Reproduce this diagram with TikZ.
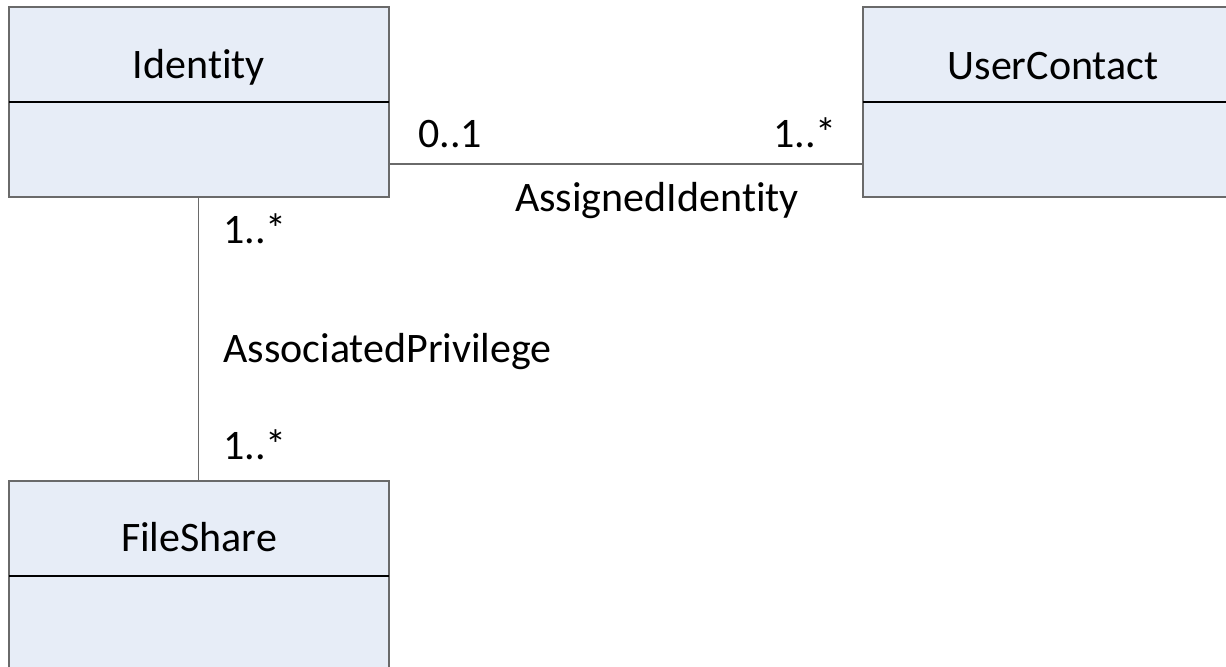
\documentclass[tikz,border=0pt]{standalone}
\usepackage{fontspec}
\setmainfont{Carlito}[Ligatures={NoCommon}]
\definecolor{boxfill}{HTML}{E7EDF7}
\definecolor{boxline}{HTML}{6A6A6A}
\tikzset{
  classbox/.style={draw=boxline, fill=boxfill, line width=0.6pt, rectangle, minimum width=190pt, minimum height=95pt, inner sep=0pt},
  divider/.style={draw=black, line width=1.1pt},
  conn/.style={draw=boxline, line width=0.6pt},
  lbl/.style={font=\fontsize{21}{25}\selectfont, inner sep=0pt, text=black},
}
\begin{document}
\begin{tikzpicture}[x=0.5pt,y=-0.5pt]
\clip (0,0) rectangle (1226,667);
\fill[white] (0,0) rectangle (1226,667);
% class boxes
\node[classbox] (identity) at (199,102) {};
\node[classbox] (usercontact) at (1053,102) {};
\node[classbox] (fileshare) at (199,576) {};
% dividers
\coordinate (idL) at (9,101.7);
\coordinate (idR) at (389,101.7);
\draw[divider] (idL) -- (idR);
\coordinate (ucL) at (863,101.7);
\coordinate (ucR) at (1243,101.7);
\draw[divider] (ucL) -- (ucR);
\coordinate (fsL) at (9,575.7);
\coordinate (fsR) at (389,575.7);
\draw[divider] (fsL) -- (fsR);
% titles
\node[lbl, anchor=base] (identityT) at (199,79) {Identity};
\node[lbl, anchor=base] (usercontactT) at (1053,80) {UserContact};
\node[lbl, anchor=base] (fileshareT) at (199,552) {FileShare};
% connectors
\coordinate (hA) at (389,164);
\coordinate (hB) at (863,164);
\draw[conn] (hA) -- (hB);
\coordinate (vA) at (198.5,197);
\coordinate (vB) at (198.5,481);
\draw[conn] (vA) -- (vB);
% labels
\node[lbl, anchor=base west] (m1) at (418,148) {0..1};
\node[lbl, anchor=base east] (m2) at (837,148) {1..*};
\node[lbl, anchor=base] (assigned) at (657,212) {AssignedIdentity};
\node[lbl, anchor=base west] (m3) at (223,244) {1..*};
\node[lbl, anchor=base west] (assoc) at (223,363) {AssociatedPrivilege};
\node[lbl, anchor=base west] (m4) at (223,460) {1..*};
\end{tikzpicture}
\end{document}
